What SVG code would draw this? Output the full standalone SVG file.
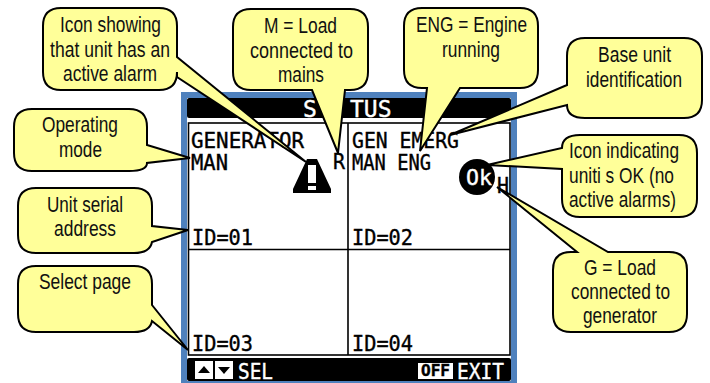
<svg xmlns="http://www.w3.org/2000/svg" width="710" height="383" viewBox="0 0 710 383">
<style>
.c{fill:#ffff99;stroke:#000;stroke-width:2;stroke-linejoin:miter}
.t{font-family:"Liberation Sans",Arial,sans-serif;font-size:21.500px;fill:#111}
.l{font-family:"DejaVu Sans Mono","Liberation Mono",monospace;font-size:22px;fill:#000;stroke:#000;stroke-width:.4}
.w{fill:#fff;stroke:#fff}
.p{fill:none;stroke:#000;stroke-width:1.6}
</style>
<rect width="710" height="383" fill="#fff"/>
<g id="screen">
<rect x="181" y="92" width="336" height="291" fill="#4f81bd"/>
<rect x="187" y="98" width="324" height="283" fill="#fff"/>
<rect x="187" y="98" width="324" height="20" rx="2" fill="#000"/>
<rect x="188.500" y="123" width="321.500" height="232" class="p"/>
<path d="M348 123V355M188.500 249.500H510" class="p"/>
<rect x="187" y="358" width="324" height="23" rx="2" fill="#000"/>
<text class="l w" y="117" x="303" style="font-size:23px">S<tspan x="350">TUS</tspan></text>
<text class="l" x="191" y="148" textLength="113" lengthAdjust="spacingAndGlyphs">GENERATOR</text>
<text class="l" x="191" y="170" textLength="37" lengthAdjust="spacingAndGlyphs">MAN</text>
<text class="l" x="333" y="169" textLength="12" lengthAdjust="spacingAndGlyphs">R</text>
<text class="l" x="352" y="148" textLength="107" lengthAdjust="spacingAndGlyphs">GEN EMERG</text>
<text class="l" x="352" y="170" textLength="79" lengthAdjust="spacingAndGlyphs">MAN ENG</text>
<text class="l" x="497" y="193" textLength="12" lengthAdjust="spacingAndGlyphs">H</text>
<text class="l" x="192" y="245" textLength="61" lengthAdjust="spacingAndGlyphs">ID=01</text>
<text class="l" x="352" y="245" textLength="61" lengthAdjust="spacingAndGlyphs">ID=02</text>
<text class="l" x="192" y="351" textLength="61" lengthAdjust="spacingAndGlyphs">ID=03</text>
<text class="l" x="352" y="351" textLength="61" lengthAdjust="spacingAndGlyphs">ID=04</text>
<g id="alarm-icon">
<path d="M307 159H317L331 189V193H293V189Z" fill="#000"/>
<rect x="308" y="165" width="8" height="18" fill="#fff"/>
<rect x="308" y="186" width="8" height="4" fill="#fff"/>
</g>
<g id="ok-icon">
<circle cx="477" cy="177" r="18" fill="#000"/>
<text class="l w" x="466" y="185" textLength="26" lengthAdjust="spacingAndGlyphs">Ok</text>
</g>
<g id="softkeys">
<rect x="195" y="361" width="18" height="18" fill="#fff"/>
<path d="M198 373L204 366L210 373Z" fill="#000"/>
<rect x="215" y="361" width="18" height="18" fill="#fff"/>
<path d="M218 367L224 374L230 367Z" fill="#000"/>
<text class="l w" x="238" y="379" textLength="35" lengthAdjust="spacingAndGlyphs">SEL</text>
<rect x="418" y="363" width="35" height="16" fill="#fff"/>
<text class="l" x="421" y="376" textLength="29" lengthAdjust="spacingAndGlyphs" style="font-size:15px;font-weight:bold">OFF</text>
<text class="l w" x="457" y="379" textLength="47" lengthAdjust="spacingAndGlyphs">EXIT</text>
</g>
</g>
<g id="callout-alarm">
<path class="c" d="M61 8H159Q177 8 177 26V57L306 162L177 77V72Q177 90 159 90H61Q43 90 43 72V26Q43 8 61 8Z"/>
<text class="t" x="60" y="32" textLength="101" lengthAdjust="spacingAndGlyphs">Icon showing</text>
<text class="t" x="50" y="57" textLength="120" lengthAdjust="spacingAndGlyphs">that unit has an</text>
<text class="t" x="63" y="81" textLength="94" lengthAdjust="spacingAndGlyphs">active alarm</text>
</g>
<g id="callout-mains">
<path class="c" d="M251 9H350Q368 9 368 27V72Q368 90 350 90H345L338 153L312 90H251Q233 90 233 72V27Q233 9 251 9Z"/>
<text class="t" x="264" y="33" textLength="73" lengthAdjust="spacingAndGlyphs">M = Load</text>
<text class="t" x="250" y="58" textLength="103" lengthAdjust="spacingAndGlyphs">connected to</text>
<text class="t" x="278" y="82" textLength="46" lengthAdjust="spacingAndGlyphs">mains</text>
</g>
<g id="callout-engine">
<path class="c" d="M422 8H520Q538 8 538 26V70Q538 88 520 88H460L420 151L427 88H422Q404 88 404 70V26Q404 8 422 8Z"/>
<text class="t" x="416" y="32" textLength="111" lengthAdjust="spacingAndGlyphs">ENG = Engine</text>
<text class="t" x="442" y="57" textLength="58" lengthAdjust="spacingAndGlyphs">running</text>
</g>
<g id="callout-base">
<path class="c" d="M585 38H684Q702 38 702 56V100Q702 118 684 118H585Q567 118 567 105L450 135L567 85V56Q567 38 585 38Z"/>
<text class="t" x="598" y="62" textLength="73" lengthAdjust="spacingAndGlyphs">Base unit</text>
<text class="t" x="586" y="87" textLength="96" lengthAdjust="spacingAndGlyphs">identification</text>
</g>
<g id="callout-ok">
<path class="c" d="M580 135H679Q697 135 697 153V199Q697 217 679 217H580Q562 217 562 199V169L487 165L562 148Q562 135 580 135Z"/>
<text class="t" x="569" y="158" textLength="110" lengthAdjust="spacingAndGlyphs">Icon indicating</text>
<text class="t" x="569" y="183" textLength="105" lengthAdjust="spacingAndGlyphs">uniti s OK (no</text>
<text class="t" x="569" y="207" textLength="107" lengthAdjust="spacingAndGlyphs">active alarms)</text>
</g>
<g id="callout-generator">
<path class="c" d="M571 252H577L497 187L608 252H669Q687 252 687 270V314Q687 332 669 332H571Q553 332 553 314V270Q553 252 571 252Z"/>
<text class="t" x="584" y="275" textLength="72" lengthAdjust="spacingAndGlyphs">G = Load</text>
<text class="t" x="571" y="299" textLength="99" lengthAdjust="spacingAndGlyphs">connected to</text>
<text class="t" x="583" y="323" textLength="74" lengthAdjust="spacingAndGlyphs">generator</text>
</g>
<g id="callout-mode">
<path class="c" d="M32 109H129Q147 109 147 127V145L190 158L147 163Q147 171 129 171H32Q14 171 14 153V127Q14 109 32 109Z"/>
<text class="t" x="42" y="132" textLength="76" lengthAdjust="spacingAndGlyphs">Operating</text>
<text class="t" x="59" y="157" textLength="43" lengthAdjust="spacingAndGlyphs">mode</text>
</g>
<g id="callout-address">
<path class="c" d="M36 188H134Q152 188 152 206V226L188 230L152 242Q150 253 134 253H36Q18 253 18 235V206Q18 188 36 188Z"/>
<text class="t" x="47" y="212" textLength="76" lengthAdjust="spacingAndGlyphs">Unit serial</text>
<text class="t" x="54" y="236" textLength="62" lengthAdjust="spacingAndGlyphs">address</text>
</g>
<g id="callout-page">
<path class="c" d="M36 266H134Q152 266 152 284V305L188 350L152 321Q150 332 134 332H36Q18 332 18 314V284Q18 266 36 266Z"/>
<text class="t" x="39" y="289" textLength="92" lengthAdjust="spacingAndGlyphs">Select page</text>
</g>
</svg>
